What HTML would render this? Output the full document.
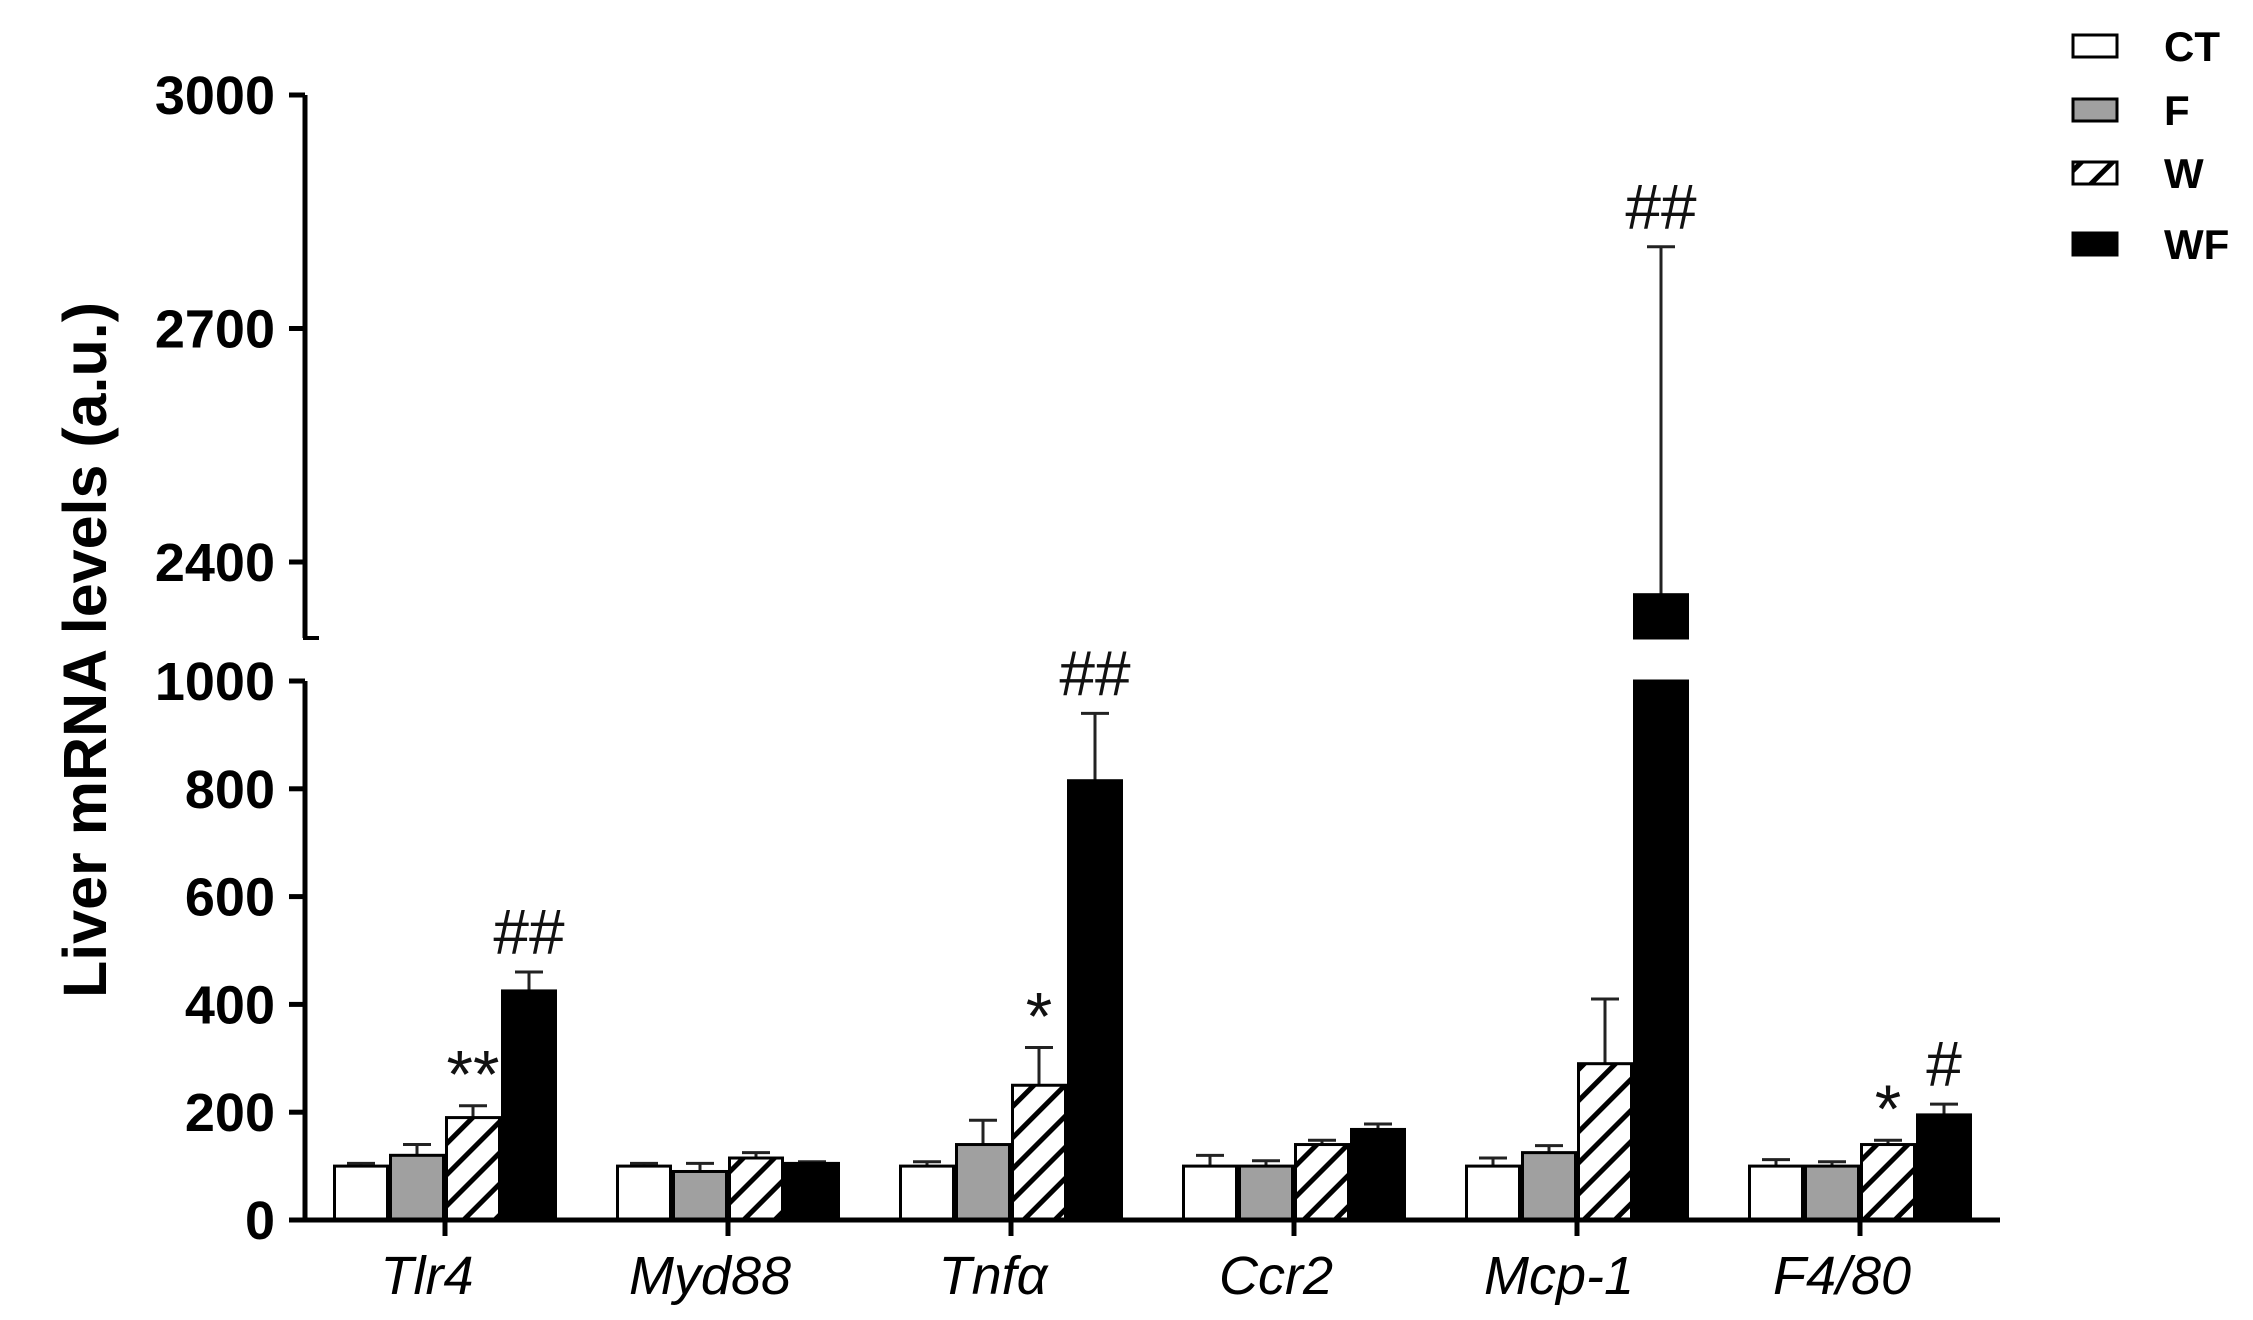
<!DOCTYPE html>
<html><head><meta charset="utf-8"><style>
body{margin:0;background:#fff;}
svg text{font-family:"Liberation Sans",Arial,sans-serif;}
</style></head><body>
<svg width="2253" height="1315" viewBox="0 0 2253 1315" xmlns="http://www.w3.org/2000/svg">
<defs>
<pattern id="hatch" patternUnits="userSpaceOnUse" width="22" height="22" patternTransform="rotate(45)">
<rect width="22" height="22" fill="#fff"/><rect x="0" y="0" width="5" height="22" fill="#000"/>
</pattern>
</defs>
<g id="plot"></g>
</svg>
<script>
const categories=["Tlr4","Myd88","Tnfα","Ccr2","Mcp-1","F4/80"];
const seriesNames=["CT","F","W","WF"];
const ctVals=[100,100,100,100,100,100];
const fVals=[120,90,140,100,125,100];
const wVals=[190,115,250,140,290,140];
const wfVals=[425,105,815,168,2358,195];
const ctErr=[105,105,108,120,115,112];
const fErr=[140,105,185,110,138,108];
const wErr=[212,125,320,148,410,148];
const wfErr=[460,108,940,178,2805,215];
const lowTicks=[0,200,400,600,800,1000];
const highTicks=[2400,2700,3000];
const annotations=[["","","**","##"],["","","",""],["","","*","##"],["","","",""],["","","","##"],["","","*","#"]];

const NS="http://www.w3.org/2000/svg";
const g=document.getElementById('plot');
const X0=305,X1=2000,Y0=1220,Y1000=681,YB=638,Y2400=562,Y3000=95;
function yLow(v){return Y0-(v/1000)*(Y0-Y1000);}
function yHigh(v){return Y2400-(v-2400)*(Y2400-Y3000)/600;}
const highMin=2400-(YB-Y2400)*600/(Y2400-Y3000);
function yScale(v){return v<=1000?yLow(v):yHigh(Math.max(v,highMin));}
const groupW=283, firstC=445, barW=56;
function xCenter(i){return firstC+i*groupW;}
function mk(tag,attrs,parent){const e=document.createElementNS(NS,tag);for(const k in attrs)e.setAttribute(k,attrs[k]);(parent||g).appendChild(e);return e;}
const fills=["#fff","#a0a0a0","url(#hatch)","#000"];
const allVals=[ctVals,fVals,wVals,wfVals], allErr=[ctErr,fErr,wErr,wfErr];
categories.forEach((c,i)=>{
  for(let s=0;s<4;s++){
    const v=allVals[s][i], e=allErr[s][i];
    const x=xCenter(i)-2*barW+s*barW;
    const xm=x+barW/2;
    const el=mk('line',{x1:xm,x2:xm,y1:yScale(v),y2:yScale(e),stroke:'#222','stroke-width':3});
    
    
    const cap=mk('line',{x1:xm-barW/4,x2:xm+barW/4,y1:yScale(e),y2:yScale(e),stroke:'#222','stroke-width':3});
    
    
    if(v>1000){
      const r1=mk('rect',{x:x+1.5,y:yLow(1000),width:barW-3,height:Y0-yLow(1000),fill:fills[s],stroke:'#000','stroke-width':3});
      
      
      const r2=mk('rect',{x:x+1.5,y:yHigh(v),width:barW-3,height:YB-yHigh(v),fill:fills[s],stroke:'#000','stroke-width':3});
      
      
    } else {
      const r=mk('rect',{x:x+1.5,y:yLow(v),width:barW-3,height:Y0-yLow(v),fill:fills[s],stroke:'#000','stroke-width':3});
      
      
    }
    const a=annotations[i][s];
    if(a){
      const t=mk('text',{x:xm,y:yScale(e)-(a[0]=='*'?8:18),'font-size':a[0]=='*'?68:64,'text-anchor':'middle',fill:'#111'});
      t.textContent=a;
      
      
    }
  }
  const tk=mk('line',{x1:xCenter(i),x2:xCenter(i),y1:Y0,y2:Y0+16,stroke:'#000','stroke-width':5});
  
  
  const lb=mk('text',{x:xCenter(i)-18,y:1294,'font-size':54,'font-style':'italic','text-anchor':'middle',fill:'#000'});
  lb.textContent=c;
  
  
});
const ya1=mk('line',{x1:X0,x2:X0,y1:Y0+2,y2:Y1000,stroke:'#000','stroke-width':5});


const ya2=mk('line',{x1:X0,x2:X0,y1:YB,y2:Y3000,stroke:'#000','stroke-width':5});


const bt=mk('line',{x1:X0-2,x2:X0+14,y1:YB,y2:YB,stroke:'#000','stroke-width':4});


const xa=mk('line',{x1:X0-2,x2:X1,y1:Y0,y2:Y0,stroke:'#000','stroke-width':5});


function ytick(y,label){
  const l=mk('line',{x1:X0-16,x2:X0,y1:y,y2:y,stroke:'#000','stroke-width':5});
  
  
  const t=mk('text',{x:X0-30,y:y+19,'font-size':54,'font-weight':'bold','text-anchor':'end',fill:'#000'});
  t.textContent=label;
  
  
}
lowTicks.forEach(v=>ytick(yLow(v),v));
highTicks.forEach(v=>ytick(yHigh(v),v));
const yt=mk('text',{x:0,y:0,'font-size':61,'font-weight':'bold','text-anchor':'middle',fill:'#000',transform:'translate(106,650) rotate(-90)'});
yt.textContent='Liver mRNA levels (a.u.)';


const legY=[46,110,173,244];
seriesNames.forEach((n,s)=>{
  const r=mk('rect',{x:2073,y:legY[s]-11,width:44,height:22,fill:fills[s],stroke:'#000','stroke-width':3});
  
  
  const t=mk('text',{x:2164,y:legY[s]+15,'font-size':42,'font-weight':'bold',fill:'#000'});
  t.textContent=n;
  
  
});
</script>
</body></html>
